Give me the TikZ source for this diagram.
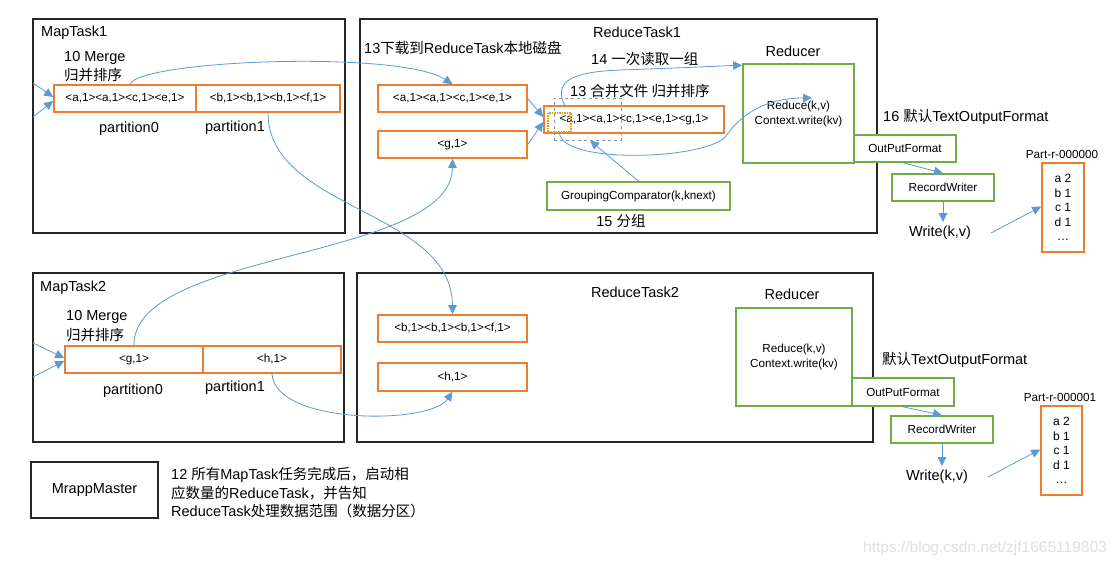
\documentclass[tikz,border=0pt]{standalone}
\usepackage{fontspec}
\setmainfont{Liberation Sans}
\newfontfamily\cjk{Noto Sans CJK SC}
\usetikzlibrary{arrows.meta}
\definecolor{org}{HTML}{ED7D31}
\definecolor{grn}{HTML}{70AD47}
\definecolor{blu}{HTML}{5B9BD5}
\definecolor{dsh}{HTML}{8497B0}
\definecolor{gld}{HTML}{DDA200}
\definecolor{frm}{HTML}{262626}
\begin{document}
\begin{tikzpicture}[x=1pt,y=-1pt,
  big/.style={font=\fontsize{14.5}{17}\selectfont, inner sep=0pt},
  sm/.style={font=\fontsize{11.7}{15}\selectfont},
  sz/.style 2 args={minimum width=#1pt, minimum height=#2pt},
  frame/.style={draw=frm, line width=1.8pt, inner sep=0pt},
  obox/.style={draw=org, line width=1.6pt, sm, inner sep=0pt},
  gbox/.style={draw=grn, line width=1.6pt, sm, inner sep=0pt},
  arr/.style={draw=blu, line width=0.8pt, -{Triangle[length=9pt,width=8.5pt]}}]
\fill[white] (0,0) rectangle (1120,567);
\useasboundingbox (0,0) rectangle (1120,567);

% ---------- MapTask1 ----------
\node[frame, sz={312}{214}] (mt1) at (189,126) {};
\node[big, anchor=west] (mt1l) at (41,33) {MapTask1};
\node[big, anchor=west] (mg1a) at (64,58) {10 Merge};
\node[big, anchor=west] (mg1b) at (64,75) {\cjk 归并排序};
\node[obox, sz={142}{27}] (p01) at (125,98.5) {<a,1><a,1><c,1><e,1>};
\node[obox, sz={144}{27}] (p11) at (268,98.5) {<b,1><b,1><b,1><f,1>};
\node[big] (pl01) at (129,129) {partition0};
\node[big] (pl11) at (235,128) {partition1};

% ---------- ReduceTask1 ----------
\node[frame, sz={517}{214}] (rt1) at (618.5,126) {};
\node[big] (rt1l) at (637,32) {ReduceTask1};
\node[big, anchor=west] (dl) at (364,48) {13{\cjk 下载到}ReduceTask{\cjk 本地磁盘}};
\node[obox, sz={149}{27}] (ra) at (452.5,98.5) {<a,1><a,1><c,1><e,1>};
\node[obox, sz={149}{27}] (rg) at (452.5,144.5) {<g,1>};
\node[big, anchor=west] (l14) at (591,59) {14 {\cjk 一次读取一组}};
\node[big, anchor=west] (l13) at (570,91) {13 {\cjk 合并文件 归并排序}};
\node[obox, sz={180}{27}] (mrg) at (634,119.5) {<a,1><a,1><c,1><e,1><g,1>};
\node[draw=dsh, dashed, line width=0.9pt, sz={67}{42}] (dsb) at (587.5,119) {};
\node[draw=gld, dash pattern=on 1.5pt off 1pt, line width=1.1pt, sz={23}{19}] (dot) at (559.5,122.5) {};
\node[gbox, sz={183}{28}] (grp) at (638.5,196) {GroupingComparator(k,knext)};
\node[big] (l15) at (621,221) {15 {\cjk 分组}};
\node[big] (red1l) at (793,51) {Reducer};
\node[gbox, sz={111}{99}, align=center] (red1) at (798.5,113.5) {Reduce(k,v)\\Context.write(kv)};
\node[gbox, sz={102}{27}, fill=white] (opf1) at (905,148.5) {OutPutFormat};
\node[big, anchor=west] (l16) at (883,117) {16 {\cjk 默认}TextOutputFormat};
\node[gbox, sz={102}{27}] (rw1) at (943,187.5) {RecordWriter};
\node[big] (wr1) at (940,233) {Write(k,v)};
\node[sm] (pt1l) at (1062,154) {Part-r-000000};
\node[obox, sz={42}{89}, align=center, font=\fontsize{12}{14.5}\selectfont] (pt1) at (1063,207.5) {a 2\\b 1\\c 1\\d 1\\…};

% ---------- MapTask2 ----------
\node[frame, sz={311}{169}] (mt2) at (188.5,357.5) {};
\node[big, anchor=west] (mt2l) at (40,288) {MapTask2};
\node[big, anchor=west] (mg2a) at (66,317) {10 Merge};
\node[big, anchor=west] (mg2b) at (66,335) {\cjk 归并排序};
\node[obox, sz={138}{27}] (p02) at (134,359.5) {<g,1>};
\node[obox, sz={138}{27}] (p12) at (272,359.5) {<h,1>};
\node[big] (pl02) at (133,391) {partition0};
\node[big] (pl12) at (235,388) {partition1};

% ---------- ReduceTask2 ----------
\node[frame, sz={516}{169}] (rt2) at (615,357.5) {};
\node[big] (rt2l) at (635,292) {ReduceTask2};
\node[obox, sz={149}{27}] (rb) at (452.5,328.5) {<b,1><b,1><b,1><f,1>};
\node[obox, sz={149}{28}] (rh) at (452.5,377) {<h,1>};
\node[big] (red2l) at (792,294) {Reducer};
\node[gbox, sz={116}{98}, align=center] (red2) at (794,357) {Reduce(k,v)\\Context.write(kv)};
\node[gbox, sz={102}{28}, fill=white] (opf2) at (903,392) {OutPutFormat};
\node[big, anchor=west] (l16b) at (882,360) {{\cjk 默认}TextOutputFormat};
\node[gbox, sz={102}{27}] (rw2) at (942,429.5) {RecordWriter};
\node[big] (wr2) at (937,477) {Write(k,v)};
\node[sm] (pt2l) at (1060,397) {Part-r-000001};
\node[obox, sz={41}{89}, align=center, font=\fontsize{12}{14.5}\selectfont] (pt2) at (1061.5,450.5) {a 2\\b 1\\c 1\\d 1\\…};

% ---------- MrappMaster ----------
\node[draw=frm, line width=1.4pt, sz={127}{56}, big] (mm) at (94.5,490) {MrappMaster};
\node[anchor=north west, align=left, inner sep=0pt, font=\fontsize{14.5}{18.5}\selectfont] (mmt) at (171,467)
  {12 {\cjk 所有}MapTask{\cjk 任务完成后，启动相}\\{\cjk 应数量的}ReduceTask{\cjk ，并告知}\\ReduceTask{\cjk 处理数据范围（数据分区）}};

\node[font=\fontsize{15.5}{18}\selectfont, text=black!12] (wm) at (985,548) {https://blog.csdn.net/zjf1665119803};

% ---------- connectors ----------
\coordinate (in1a) at (33,83);
\coordinate (in1b) at (33,117);
\coordinate (in2a) at (33,343);
\coordinate (in2b) at (33,377);
\draw[arr] (in1a) -- ([yshift=1.5pt]p01.west);
\draw[arr] (in1b) -- ([yshift=-2.5pt]p01.west);
\draw[arr] (in2a) -- ([yshift=1.5pt]p02.west);
\draw[arr] (in2b) -- ([yshift=-1.5pt]p02.west);

\draw[arr] ([xshift=5pt]p01.north) .. controls (140,60) and (400,50) .. (ra.north);
\draw[arr] (p11.south) .. controls (268,210) and (452,210) .. (rb.north);
\draw[arr] (p02.north) .. controls (133,250) and (452,260) .. (rg.south);
\draw[arr] (p12.south) .. controls (275,425) and (430,425) .. (rh.south);

\draw[arr] (ra.east) -- ([yshift=2.5pt]mrg.west);
\draw[arr] (rg.east) -- ([yshift=-2.5pt]mrg.west);
\draw[arr] (grp.north) -- ([xshift=2.5pt]dsb.south);

\coordinate (s14) at (565,106);
\draw[arr] (s14) .. controls (553,82) and (570,72) .. (620,70) .. controls (680,68) and (720,66) .. ([yshift=-2pt]red1.north west);
\draw[arr] (dot.south) .. controls (560,165) and (710,160) .. (727,135) .. controls (737,120) and (760,98) .. ([shift={(13.5,-15.5)}]red1.center);

\draw[arr] ([xshift=-2pt]opf1.south) -- (rw1.north);
\draw[arr, shorten >=4pt] (rw1.south) -- (rw1.south |- wr1.north);
\draw[arr] ([xshift=20pt]wr1.east) -- ([yshift=1pt]pt1.west);

\draw[arr] ([xshift=0pt]opf2.south) -- (rw2.north);
\draw[arr, shorten >=4pt] (rw2.south) -- (rw2.south |- wr2.north);
\draw[arr] ([xshift=20pt]wr2.east) -- ([yshift=1pt]pt2.west);
\end{tikzpicture}
\end{document}
